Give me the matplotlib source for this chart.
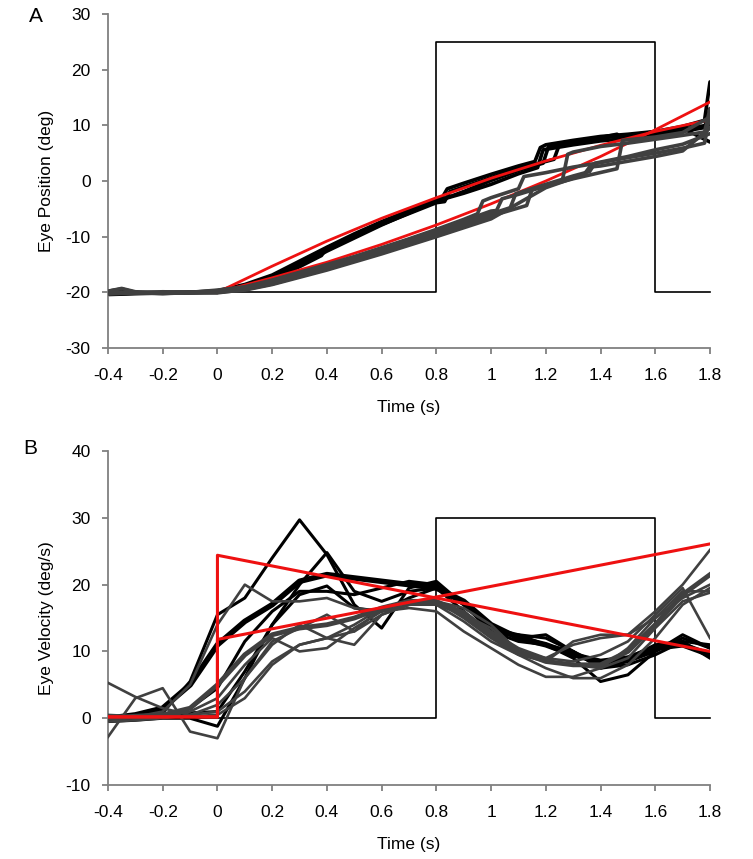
import numpy as np
import matplotlib.pyplot as plt

plt.rcParams['font.family'] = ['Liberation Sans', 'DejaVu Sans']

# ---- target (step) traces
step_t = [-0.4, 0.8, 0.8, 1.6, 1.6, 1.8]
step_pos = [-20, -20, 25, 25, -20, -20]
step_vel = [0, 0, 30, 30, 0, 0]

# ---- panel A: eye position, black group (fast)
pa_b1_t = [-0.4, -0.35, -0.3, -0.2, -0.1, 0, 0.1, 0.2, 0.3, 0.4, 0.5, 0.6, 0.7, 0.8, 0.82, 0.84,
           0.9, 1.0, 1.1, 1.16, 1.18, 1.2, 1.3, 1.4, 1.5, 1.6, 1.7, 1.78, 1.8]
pa_b1 = [-19.8, -19.4, -20.0, -20.1, -20.0, -19.7, -18.6, -16.9, -14.4, -11.9, -9.5, -7.3, -5.3, -3.4,
         -3.1, -1.4, -0.4, 1.2, 2.7, 3.5, 6.0, 6.5, 7.3, 8.0, 8.4, 8.9, 9.8, 10.9, 17.8]
pa_b2_t = [-0.4, -0.2, 0, 0.1, 0.2, 0.3, 0.4, 0.6, 0.8, 0.9, 1.0, 1.1, 1.19, 1.21, 1.3, 1.4, 1.46,
           1.48, 1.6, 1.7, 1.8]
pa_b2 = [-20.3, -20.0, -20.0, -18.9, -17.3, -14.9, -12.3, -7.7, -3.7, -1.9, 0.1, 1.9, 3.2, 6.2, 6.9,
         7.8, 8.4, 7.6, 8.5, 9.3, 10.1]
pa_b3_t = [-0.4, -0.2, 0, 0.1, 0.2, 0.3, 0.38, 0.4, 0.6, 0.8, 0.83, 0.85, 1.0, 1.1, 1.23, 1.25, 1.4,
           1.6, 1.7, 1.8]
pa_b3 = [-20.1, -20.2, -19.9, -19.0, -17.6, -15.4, -13.4, -12.0, -7.8, -3.9, -3.7, -1.9, 0.6, 2.2,
         3.9, 6.6, 7.7, 8.8, 9.5, 7.0]
pa_b4_t = [-0.4, -0.2, 0, 0.1, 0.2, 0.4, 0.6, 0.8, 0.9, 1.0, 1.1, 1.17, 1.19, 1.3, 1.4, 1.6, 1.7,
           1.78, 1.8]
pa_b4 = [-20.4, -20.1, -20.0, -19.3, -17.9, -12.6, -7.9, -3.6, -2.2, -0.6, 1.3, 2.4, 5.6, 6.5, 7.2,
         8.1, 8.9, 9.6, 13.0]

# ---- panel A: eye position, grey group (slow)
pa_g1_t = [-0.4, -0.35, -0.3, -0.2, -0.1, 0, 0.1, 0.2, 0.3, 0.4, 0.5, 0.6, 0.7, 0.8, 0.9, 0.95,
           0.97, 1.0, 1.1, 1.12, 1.2, 1.3, 1.4, 1.5, 1.6, 1.7, 1.78, 1.8]
pa_g1 = [-19.8, -19.3, -19.9, -20.1, -20.0, -19.6, -19.0, -17.8, -16.4, -15.0, -13.6, -12.0, -10.4,
         -8.7, -6.9, -5.9, -3.6, -3.0, -1.4, 0.8, 1.5, 2.5, 3.3, 4.2, 5.0, 5.9, 6.8, 12.0]
pa_g2_t = [-0.4, -0.2, 0, 0.1, 0.2, 0.4, 0.6, 0.8, 1.0, 1.02, 1.04, 1.1, 1.2, 1.26, 1.28, 1.3, 1.4,
           1.5, 1.6, 1.7, 1.78, 1.8]
pa_g2 = [-20.2, -20.0, -19.9, -19.2, -18.0, -15.2, -12.1, -8.9, -5.4, -5.3, -3.2, -2.4, -0.9, 0.0,
         4.8, 5.2, 6.2, 6.8, 7.5, 8.2, 8.8, 13.0]
pa_g3_t = [-0.4, -0.2, 0, 0.1, 0.2, 0.4, 0.6, 0.8, 1.0, 1.07, 1.09, 1.2, 1.3, 1.36, 1.38, 1.5, 1.6,
           1.7, 1.8]
pa_g3 = [-19.9, -20.2, -20.0, -19.4, -18.3, -15.5, -12.4, -9.3, -5.9, -4.8, -2.3, -0.6, 0.9, 1.7,
         3.2, 4.4, 5.6, 6.6, 8.5]
pa_g4_t = [-0.4, -0.2, 0, 0.1, 0.2, 0.4, 0.6, 0.8, 1.0, 1.13, 1.15, 1.2, 1.3, 1.46, 1.48, 1.6, 1.7,
           1.8]
pa_g4 = [-20.3, -19.9, -20.1, -19.5, -18.5, -15.8, -12.8, -9.6, -6.3, -4.4, -1.5, -0.9, 0.4, 2.2,
         7.3, 7.9, 8.7, 11.5]
pa_g5_t = [-0.4, -0.2, 0, 0.1, 0.2, 0.4, 0.6, 0.8, 1.0, 1.2, 1.34, 1.36, 1.4, 1.6, 1.7, 1.8]
pa_g5 = [-20.0, -20.2, -20.0, -19.6, -18.6, -16.0, -13.1, -10.0, -6.8, -1.2, 1.2, 2.5, 2.7, 4.4,
         5.4, 9.5]

# ---- panel A: red model trajectories
red_pos_t = [0, 0.2, 0.4, 0.6, 0.8, 1.0, 1.2, 1.4, 1.6, 1.8]
red_pos_fast = [-20, -15.3, -10.8, -6.7, -3.0, 0.5, 3.6, 6.4, 8.9, 11.0]
red_pos_slow = [-20, -17.4, -14.6, -11.4, -7.9, -4.1, 0.0, 4.4, 9.2, 14.2]

# ---- panel B: eye velocity (sampled every 0.1 s)
vt = np.round(np.arange(-0.4, 1.81, 0.1), 2)
vb_mean = [0, 0.5, 1.5, 5, 11, 14.5, 17, 20.5, 21.5, 21, 20.5, 20, 19.5, 17.5, 14, 12, 11, 9.5,
           8.5, 9, 10.5, 11, 9.5]
vb1 = [0, 0.2, 0.8, 5.5, 15.5, 18, 24, 29.7, 24.5, 17, 13.5, 19.5, 20.5, 17, 13, 11.5, 11, 10,
       8, 9, 11, 11.5, 9]
vb2 = [0.3, 0.3, 0.5, 0.8, 1, 7, 14, 20, 24.8, 19, 17.5, 19, 19.5, 17, 13.5, 12.5, 12, 10,
       7.5, 8.5, 10, 12, 10.5]
vb3 = [-0.5, -0.3, 0, 0, -1.2, 6, 14, 18.5, 19.8, 16.5, 16, 18, 19.5, 16, 12.5, 12.5, 11, 9,
       5.5, 6.5, 10, 12.5, 10.5]
vb4 = [0, 0.2, 0.5, 1.5, 4.5, 11.5, 16, 19, 19, 18.5, 19.5, 20.5, 20, 17, 13.5, 12, 12.5, 10,
       7.5, 8, 9.5, 11.5, 11]
vg_mean = [0, 0.3, 0.5, 1.5, 5, 9.5, 12.5, 13.5, 14, 15, 16.5, 17.5, 17.5, 15.5, 12.5, 10, 8.5,
           8, 8, 10, 14, 18.5, 21.5]
vg1 = [5.3, 3.2, 1.5, 0.5, 1, 4, 8.5, 11, 12, 14, 16.5, 17.5, 17.5, 15, 12, 9.5, 7.5, 6, 6, 8,
       12, 17, 19.5]
vg2 = [-2.8, 3, 4.5, -2, -3, 6, 11.5, 13.5, 15.5, 13, 16.5, 17.5, 17, 15.5, 13.5, 10, 9, 11, 12,
       12.5, 16, 20, 25.2]
vg3 = [0, 0.2, 1, 5, 14, 20, 17.5, 17.5, 18, 16.5, 16, 17, 17.5, 16, 13, 10.5, 9, 8.5, 9.5, 11.5,
       15.5, 19.5, 12]
vg4 = [0, 0, 0.3, 1, 3, 8, 12, 10, 10.5, 13.5, 16, 16.5, 16, 13, 10.5, 8, 6.2, 6.2, 7.5, 10.5,
       15, 19, 19]
vg5 = [0.5, 0.3, 0.3, 0.3, 0.5, 3, 8, 11, 12, 13, 15.5, 17, 17, 14.5, 11.5, 9.5, 8.5, 8, 7.5, 9,
       13.5, 17.5, 18.8]
vg6 = [-0.5, -0.3, 0, 0.5, 2, 6, 11, 14, 12, 11, 15.5, 17, 17.5, 16.5, 14, 10, 8.5, 11.5, 12.5,
       12.5, 15, 18, 20]

# ---- panel B: red model velocities
red_vel_t = [-0.4, 0, 0, 1.8]
red_vel_fast = [0.2, 0.2, 24.4, 10.0]
red_vel_slow = [0.2, 0.2, 11.8, 26.1]

BLACK = '#000000'
GREY = '#404040'
RED = '#ee1111'
SPINE = '#808080'

fig = plt.figure(figsize=(7.53, 8.59), dpi=100)
axA = fig.add_axes([0.1434, 0.5949, 0.7995, 0.3888])
axB = fig.add_axes([0.1434, 0.0861, 0.7995, 0.3888])


def style(ax, ylim, yticks, ylabel):
    ax.set_xlim(-0.4, 1.8)
    ax.set_ylim(*ylim)
    ax.set_xticks(np.round(np.arange(-0.4, 1.81, 0.2), 1))
    ax.set_xticklabels(['-0.4', '-0.2', '0', '0.2', '0.4', '0.6', '0.8', '1', '1.2', '1.4', '1.6', '1.8'])
    ax.set_yticks(yticks)
    ax.set_yticklabels([str(v) for v in yticks])
    for s in ['top', 'right']:
        ax.spines[s].set_visible(False)
    for s in ['left', 'bottom']:
        ax.spines[s].set_color(SPINE)
        ax.spines[s].set_linewidth(1.3)
    ax.tick_params(direction='out', length=4.5, width=1.3, color=SPINE, labelsize=12.5)
    ax.tick_params(axis='x', pad=10)
    ax.tick_params(axis='y', pad=8)
    ax.set_xlabel('Time (s)', fontsize=12.5, labelpad=12)
    ax.set_ylabel(ylabel, fontsize=12.5, labelpad=8)


# panel A
axA.plot(step_t, step_pos, color=BLACK, lw=1.2, clip_on=False, zorder=1)
for t, y in [(pa_b1_t, pa_b1), (pa_b2_t, pa_b2), (pa_b3_t, pa_b3), (pa_b4_t, pa_b4)]:
    axA.plot(t, y, color=BLACK, lw=2.6, solid_joinstyle='round', solid_capstyle='round', zorder=2)
axA.plot(red_pos_t, red_pos_fast, color=RED, lw=2.0, zorder=3)
for t, y in [(pa_g1_t, pa_g1), (pa_g2_t, pa_g2), (pa_g3_t, pa_g3), (pa_g4_t, pa_g4), (pa_g5_t, pa_g5)]:
    axA.plot(t, y, color=GREY, lw=2.6, solid_joinstyle='round', solid_capstyle='round', zorder=4)
axA.plot(red_pos_t, red_pos_slow, color=RED, lw=2.0, zorder=3)
style(axA, (-30, 30), [-30, -20, -10, 0, 10, 20, 30], 'Eye Position (deg)')

# panel B
axB.plot(step_t, step_vel, color=BLACK, lw=1.2, clip_on=False, zorder=1)
axB.plot(vt, vb_mean, color=BLACK, lw=4.0, solid_joinstyle='round', zorder=2)
for y in [vb1, vb2, vb3, vb4]:
    axB.plot(vt, y, color=BLACK, lw=2.2, solid_joinstyle='round', zorder=2)
axB.plot(vt, vg_mean, color=GREY, lw=3.5, solid_joinstyle='round', zorder=3)
for y in [vg1, vg2, vg3, vg4, vg5, vg6]:
    axB.plot(vt, y, color=GREY, lw=1.9, solid_joinstyle='round', zorder=3)
axB.plot(red_vel_t, red_vel_fast, color=RED, lw=2.2, zorder=4)
axB.plot(red_vel_t, red_vel_slow, color=RED, lw=2.2, zorder=4)
style(axB, (-10, 40), [-10, 0, 10, 20, 30, 40], 'Eye Velocity (deg/s)')

fig.text(0.047, 0.981, 'A', fontsize=15, ha='center', va='center')
fig.text(0.040, 0.478, 'B', fontsize=15, ha='center', va='center')

fig.savefig('out.png', dpi=100)
